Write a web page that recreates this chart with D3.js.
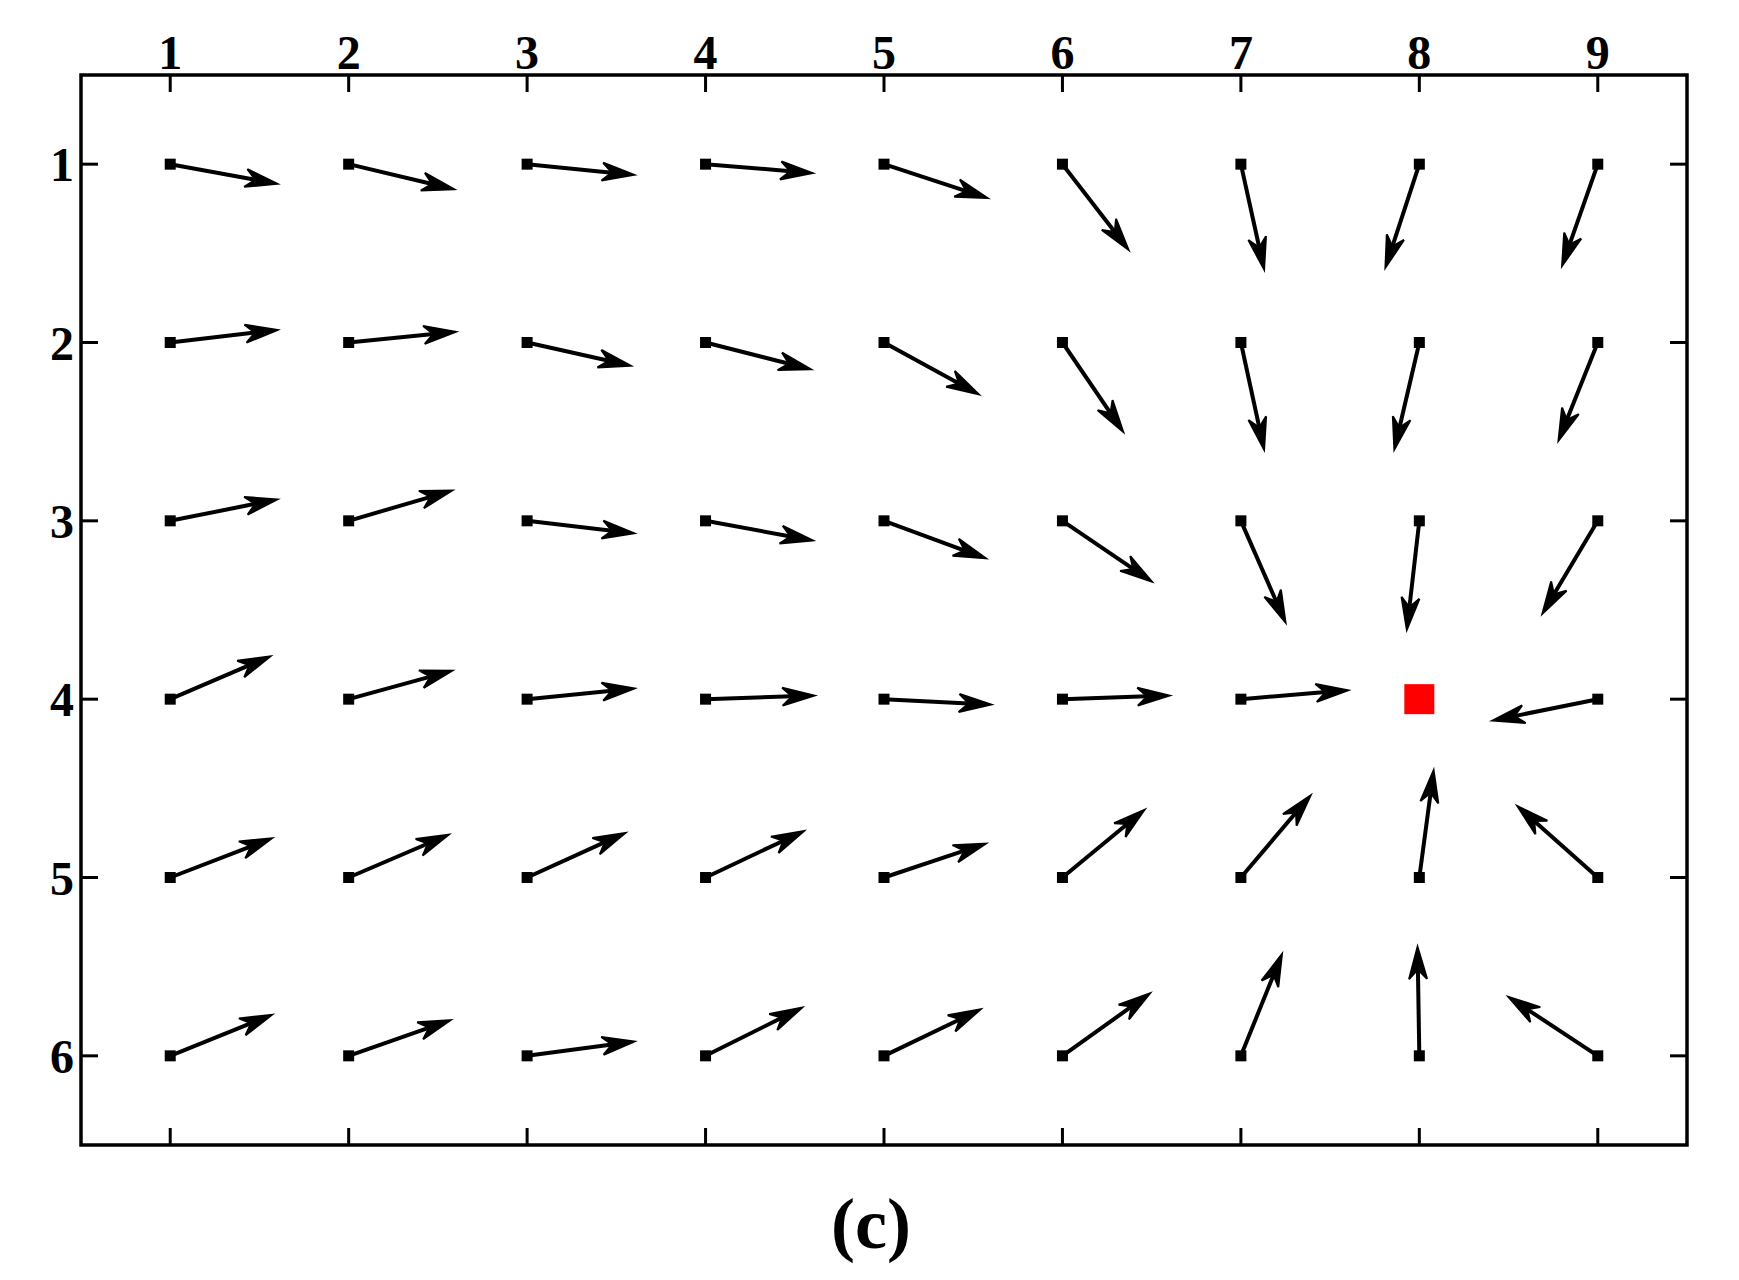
<!DOCTYPE html>
<html>
<head>
<meta charset="utf-8">
<script src="https://cdn.jsdelivr.net/npm/d3@7"></script>
<style>
  body { margin: 0; background: #fff; }
</style>
</head>
<body>
<svg width="1739" height="1280"></svg>
<script>
const cols = [1, 2, 3, 4, 5, 6, 7, 8, 9];
const rows = [1, 2, 3, 4, 5, 6];
const goal = [8, 4];
// arrow direction per row, [dx, dy] in grid units (x right, y down)
const row1 = [[0.60,0.11],[0.59,0.14],[0.60,0.06],[0.60,0.05],[0.58,0.19],[0.37,0.48],[0.13,0.59],[-0.19,0.58],[-0.20,0.57]];
const row2 = [[0.60,-0.07],[0.60,-0.06],[0.58,0.13],[0.59,0.15],[0.53,0.29],[0.34,0.50],[0.13,0.60],[-0.14,0.60],[-0.22,0.55]];
const row3 = [[0.60,-0.12],[0.58,-0.17],[0.60,0.07],[0.60,0.11],[0.57,0.21],[0.50,0.34],[0.25,0.57],[-0.07,0.61],[-0.31,0.52]];
const row4 = [[0.56,-0.24],[0.58,-0.16],[0.60,-0.06],[0.61,-0.02],[0.60,0.03],[0.60,-0.02],[0.60,-0.05],null,[-0.59,0.12]];
const row5 = [[0.57,-0.22],[0.56,-0.24],[0.55,-0.25],[0.55,-0.26],[0.57,-0.19],[0.46,-0.38],[0.39,-0.46],[0.08,-0.60],[-0.45,-0.40]];
const row6 = [[0.57,-0.23],[0.57,-0.20],[0.60,-0.08],[0.54,-0.27],[0.54,-0.26],[0.49,-0.35],[0.23,-0.57],[-0.01,-0.61],[-0.50,-0.33]];
const vectors = [row1, row2, row3, row4, row5, row6];

const font = '"Liberation Serif", "Times New Roman", Times, serif';
const svg = d3.select('svg');
const x = d3.scaleLinear().domain([0.5, 9.5]).range([81, 1687]);
const y = d3.scaleLinear().domain([0.5, 6.5]).range([75, 1145]);
const L = 81, R = 1687, T = 75, B = 1145;

svg.append('rect')
  .attr('x', L).attr('y', T).attr('width', R - L).attr('height', B - T)
  .attr('fill', 'none').attr('stroke', '#000').attr('stroke-width', 3.5);

// ticks, pointing inward
const tk = 17;
cols.forEach(c => {
  svg.append('line').attr('x1', x(c)).attr('x2', x(c)).attr('y1', T).attr('y2', T + tk)
    .attr('stroke', '#000').attr('stroke-width', 3);
  svg.append('line').attr('x1', x(c)).attr('x2', x(c)).attr('y1', B).attr('y2', B - tk)
    .attr('stroke', '#000').attr('stroke-width', 3);
  svg.append('text').attr('x', x(c)).attr('y', 69).attr('text-anchor', 'middle')
    .attr('font-family', font)
    .attr('font-size', 48).attr('font-weight', 'bold').text(c);
});
rows.forEach(r => {
  svg.append('line').attr('x1', L).attr('x2', L + tk).attr('y1', y(r)).attr('y2', y(r))
    .attr('stroke', '#000').attr('stroke-width', 3);
  svg.append('line').attr('x1', R).attr('x2', R - tk).attr('y1', y(r)).attr('y2', y(r))
    .attr('stroke', '#000').attr('stroke-width', 3);
  svg.append('text').attr('x', 62).attr('y', y(r) + 17).attr('text-anchor', 'middle')
    .attr('font-family', font)
    .attr('font-size', 48).attr('font-weight', 'bold').text(r);
});

const arrows = [];
rows.forEach((r, i) => cols.forEach((c, j) => {
  const v = vectors[i][j];
  if (v) arrows.push({ c, r, dx: v[0], dy: v[1] });
}));

const g = svg.append('g');
arrows.forEach(a => {
  const x0 = x(a.c), y0 = y(a.r);
  const x1 = x(a.c + a.dx), y1 = y(a.r + a.dy);
  const ang = Math.atan2(y1 - y0, x1 - x0);
  const hl = 32, hw = 9;
  const bx = x1 - hl * Math.cos(ang), by = y1 - hl * Math.sin(ang);
  const px = -Math.sin(ang) * hw, py = Math.cos(ang) * hw;
  const mx = x1 - hl * 0.7 * Math.cos(ang), my = y1 - hl * 0.7 * Math.sin(ang);
  g.append('line').attr('x1', x0).attr('y1', y0).attr('x2', mx).attr('y2', my)
    .attr('stroke', '#000').attr('stroke-width', 4);
  g.append('path')
    .attr('d', `M${x1},${y1}L${bx + px},${by + py}L${mx},${my}L${bx - px},${by - py}Z`)
    .attr('fill', '#000').attr('stroke', '#000').attr('stroke-width', 2)
    .attr('stroke-linejoin', 'miter');
  g.append('rect').attr('x', x0 - 5.5).attr('y', y0 - 5.5).attr('width', 11).attr('height', 11)
    .attr('fill', '#000');
});

svg.append('rect')
  .attr('x', x(goal[0]) - 15).attr('y', y(goal[1]) - 15).attr('width', 30).attr('height', 30)
  .attr('fill', '#ff0000');

svg.append('text').attr('x', 871).attr('y', 1248).attr('text-anchor', 'middle')
  .attr('font-family', font).attr('font-weight', 'bold')
  .attr('font-size', 72).text('(c)');
</script>
</body>
</html>
